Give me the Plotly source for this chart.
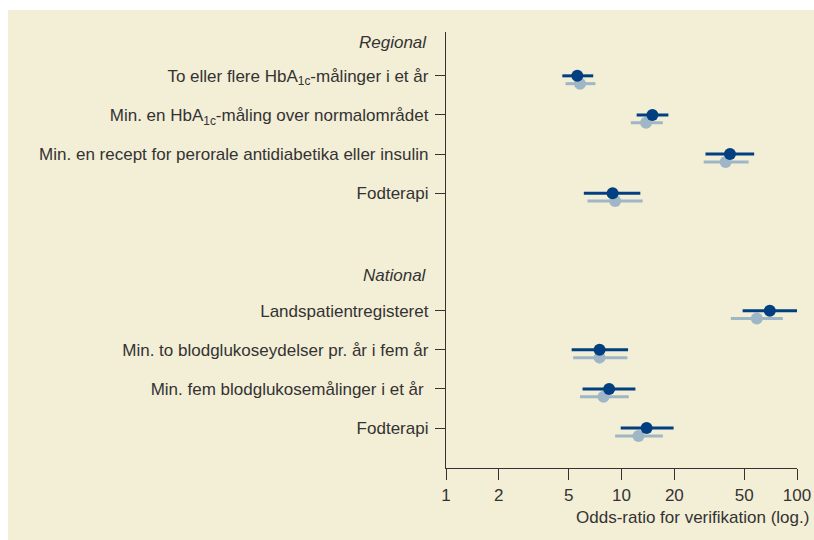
import plotly.graph_objects as go

# ---- data ----
categories = [
    "To eller flere HbA<sub>1c</sub>-målinger i et år",
    "Min. en HbA<sub>1c</sub>-måling over normalområdet",
    "Min. en recept for perorale antidiabetika eller insulin",
    "Fodterapi",
    "Landspatientregisteret",
    "Min. to blodglukoseydelser pr. år i fem år",
    "Min. fem blodglukosemålinger i et år ",
    "Fodterapi",
]
row_pos = [0, 1, 2, 3, 6, 7, 8, 9]
group_labels = ["Regional", "National"]
group_pos = [-0.85, 5.1]

dark_or = [5.6, 15.0, 41.5, 8.9, 70.0, 7.5, 8.5, 13.9]
dark_lo = [4.6, 12.2, 30.1, 6.1, 49.0, 5.2, 6.0, 9.9]
dark_hi = [6.9, 18.5, 57.0, 12.8, 101.0, 10.9, 12.0, 19.8]

light_or = [5.8, 13.8, 39.2, 9.2, 59.0, 7.5, 7.9, 12.5]
light_lo = [4.8, 11.3, 29.4, 6.4, 42.0, 5.3, 5.8, 9.2]
light_hi = [7.1, 17.2, 53.0, 13.2, 83.0, 10.8, 11.0, 17.2]

x_ticks = [1, 2, 5, 10, 20, 50, 100]
x_title = "Odds-ratio for verifikation (log.)"

DARK = "#023F80"
LIGHT = "#9FB6C6"
BG = "#F3EED6"
TXT = "#333333"
FONT = "Liberation Sans"
FS = 17

fig = go.Figure()

light_offset = 0.2
fig.add_trace(go.Scatter(
    x=light_or, y=[p + light_offset for p in row_pos], mode="markers",
    marker=dict(size=12, color=LIGHT),
    error_x=dict(type="data", symmetric=False,
                 array=[h - v for h, v in zip(light_hi, light_or)],
                 arrayminus=[v - l for v, l in zip(light_or, light_lo)],
                 color=LIGHT, thickness=3, width=0),
    cliponaxis=False, hoverinfo="skip", showlegend=False,
))
fig.add_trace(go.Scatter(
    x=dark_or, y=row_pos, mode="markers",
    marker=dict(size=12, color=DARK),
    error_x=dict(type="data", symmetric=False,
                 array=[h - v for h, v in zip(dark_hi, dark_or)],
                 arrayminus=[v - l for v, l in zip(dark_or, dark_lo)],
                 color=DARK, thickness=3, width=0),
    cliponaxis=False, hoverinfo="skip", showlegend=False,
))

W, H = 814, 540
L, R, T, B = 446, 17, 32, 72
pw, ph = W - L - R, H - T - B

def px_x(p):
    return (p - L) / pw

def px_y(p):
    return (H - B - p) / ph

shapes = [dict(type="rect", xref="paper", yref="paper",
               x0=px_x(8), x1=px_x(W + 2), y0=px_y(H + 2), y1=px_y(10),
               fillcolor=BG, line=dict(width=0), layer="below")]

annotations = []
for g, gp in zip(group_labels, group_pos):
    annotations.append(dict(text="<i>" + g + "</i>", xref="paper", yref="y",
                            x=px_x(429), y=gp, xanchor="right", yanchor="middle",
                            showarrow=False, font=dict(family=FONT, size=FS, color=TXT)))
annotations.append(dict(text=x_title, xref="paper", yref="paper",
                        x=px_x(811), y=px_y(517), xanchor="right", yanchor="middle",
                        showarrow=False, font=dict(family=FONT, size=FS, color=TXT)))

fig.update_layout(
    width=W, height=H,
    margin=dict(l=L, r=R, t=T, b=B, pad=0, autoexpand=False),
    paper_bgcolor="white", plot_bgcolor="rgba(0,0,0,0)",
    shapes=shapes, annotations=annotations,
    font=dict(family=FONT, size=FS, color=TXT),
    xaxis=dict(type="log", range=[0, 2], tickvals=x_ticks,
               ticktext=[str(t) for t in x_ticks], automargin=False,
               ticks="outside", ticklen=11, tickwidth=1.3, tickcolor=TXT,
               showline=True, linecolor=TXT, linewidth=1.3,
               showgrid=False, zeroline=False,
               tickfont=dict(family=FONT, size=FS, color=TXT)),
    yaxis=dict(range=[10.02, -1.12], tickvals=row_pos, ticktext=categories,
               automargin=False,
               ticks="outside", ticklen=10, tickwidth=1.3, tickcolor=TXT,
               showline=True, linecolor=TXT, linewidth=1.3,
               showgrid=False, zeroline=False, ticklabelstandoff=3,
               tickfont=dict(family=FONT, size=FS, color=TXT)),
)

fig.write_html(
    "out.html",
    config={"displayModeBar": False},
    post_script="document.body.style.margin='0';document.body.style.overflow='hidden';",
)
